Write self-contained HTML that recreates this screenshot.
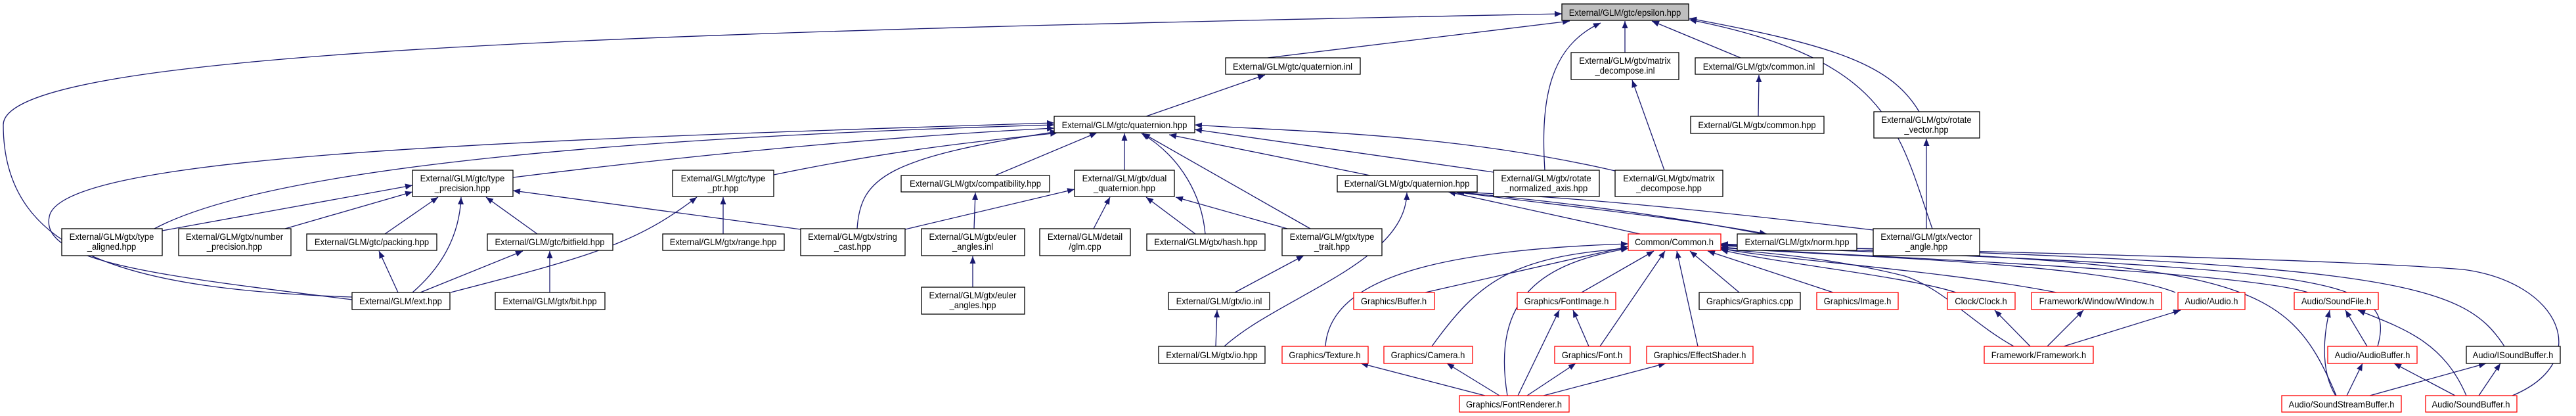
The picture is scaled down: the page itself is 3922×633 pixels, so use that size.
<!DOCTYPE html>
<html><head><meta charset="utf-8"><style>
html,body{margin:0;padding:0;background:#fff;}
svg{display:block;}
text{font-family:"Liberation Sans",sans-serif;font-size:14px;fill:#000;}
</style></head><body>
<svg width="3922" height="633" viewBox="0 0 3922 633" xmlns="http://www.w3.org/2000/svg">
<defs><marker id="a" markerUnits="userSpaceOnUse" markerWidth="12" markerHeight="9" refX="11" refY="4.5" orient="auto"><path d="M0,0 L11,4.5 L0,9 z" fill="#191970"/></marker></defs>
<g fill="none" stroke="#191970" stroke-width="1.3" marker-end="url(#a)">
<path d="M1930,88 L2390,32"/>
<path d="M2474,80 L2474,32"/>
<path d="M2650,88 L2515,32"/>
<path d="M2922,170 C2880,100 2800,70 2572,28"/>
<path d="M2942,348 C2890,200 2880,90 2572,30"/>
<path d="M2352,259 C2345,150 2360,70 2437,35"/>
<path d="M536,452 C200,440 5,390 5,190 C5,80 900,50 2378,21"/>
<path d="M1745,177 L1926,114"/>
<path d="M2534,259 L2485,122"/>
<path d="M2677,177 L2678,114"/>
<path d="M2933,348 L2933,211"/>
<path d="M781,270 C1100,230 1400,205 1605,195"/>
<path d="M536,456 C250,420 60,400 75,330 C90,240 700,215 1605,187"/>
<path d="M235,348 C400,260 900,210 1605,190"/>
<path d="M1178,266 C1400,220 1550,210 1610,202"/>
<path d="M1305,348 C1310,270 1350,240 1610,200"/>
<path d="M1515,267 L1670,202"/>
<path d="M1712,259 L1712,203"/>
<path d="M1835,356 C1830,300 1800,240 1738,203"/>
<path d="M1995,348 L1740,203"/>
<path d="M2086,267 L1780,205"/>
<path d="M2274,262 L1819,197"/>
<path d="M2459,260 C2200,200 1950,200 1819,190"/>
<path d="M1483,348 L1485,293"/>
<path d="M1665,348 L1690,300"/>
<path d="M1820,356 L1745,300"/>
<path d="M1960,348 L1790,300"/>
<path d="M1378,349 L1636,288"/>
<path d="M247,351 L628,282"/>
<path d="M434,348 L628,292"/>
<path d="M586,356 L667,300"/>
<path d="M628,445 C680,400 700,350 702,300"/>
<path d="M818,356 L740,300"/>
<path d="M1219,349 L781,290"/>
<path d="M686,445 C900,390 970,370 1061,300"/>
<path d="M1101,356 L1101,300"/>
<path d="M606,445 L577,382"/>
<path d="M640,445 L796,382"/>
<path d="M837,445 L837,382"/>
<path d="M1481,437 L1481,390"/>
<path d="M1880,445 L1985,389"/>
<path d="M1851,527 L1853,472"/>
<path d="M1864,527 C1950,450 2140,400 2142,293"/>
<path d="M2018,527 C2025,420 2200,380 2479,371"/>
<path d="M2683,356 C2500,320 2300,300 2215,292"/>
<path d="M2215,292 C2350,310 2550,330 2690,356"/>
<path d="M2852,350 C2600,320 2400,300 2218,292"/>
<path d="M2497,356 L2205,292"/>
<path d="M2170,445 L2479,375"/>
<path d="M2180,527 C2250,430 2300,390 2479,378"/>
<path d="M2295,602 C2270,450 2350,400 2479,378"/>
<path d="M2408,445 L2518,382"/>
<path d="M2436,527 L2535,382"/>
<path d="M2585,527 L2553,382"/>
<path d="M2648,445 L2573,382"/>
<path d="M2791,445 L2600,382"/>
<path d="M2978,445 C2900,420 2700,400 2620,380"/>
<path d="M3131,445 C2950,410 2700,395 2620,378"/>
<path d="M3312,445 C3200,400 2800,390 2620,377"/>
<path d="M3514,445 C3400,410 2800,390 2620,376"/>
<path d="M3066,527 C3000,490 2960,440 2900,420 C2800,395 2700,385 2620,379"/>
<path d="M3557,602 C3480,420 3420,400 2620,373"/>
<path d="M3620,527 C3650,420 3550,410 2620,374"/>
<path d="M3813,527 C3750,430 3650,400 2620,372"/>
<path d="M3825,602 C3950,550 3900,430 3750,410 C3500,390 2800,380 2620,371"/>
<path d="M2419,527 L2395,472"/>
<path d="M2311,602 L2374,472"/>
<path d="M2261,602 L2072,553"/>
<path d="M2283,602 L2203,553"/>
<path d="M2325,602 L2399,553"/>
<path d="M2350,602 L2536,553"/>
<path d="M3091,527 L3037,472"/>
<path d="M3117,527 L3172,472"/>
<path d="M3142,527 L3320,472"/>
<path d="M3556,602 C3530,560 3540,500 3547,472"/>
<path d="M3604,527 L3571,472"/>
<path d="M3755,602 C3720,520 3660,500 3590,472"/>
<path d="M3573,602 L3597,553"/>
<path d="M3738,602 L3645,553"/>
<path d="M3608,602 L3785,553"/>
<path d="M3774,602 L3807,553"/>
</g>
<g stroke-width="1.3" fill="#fff" stroke="#000">
<rect x="2378" y="6" width="193" height="25" fill="#bfbfbf"/>
<rect x="1866" y="88" width="205" height="25"/>
<rect x="2392" y="80" width="164" height="41"/>
<rect x="2581" y="88" width="195" height="25"/>
<rect x="2574" y="177" width="203" height="26"/>
<rect x="2853" y="170" width="161" height="40"/>
<rect x="1605" y="177" width="214" height="25"/>
<rect x="628" y="259" width="153" height="40"/>
<rect x="1024" y="259" width="154" height="40"/>
<rect x="1372" y="267" width="226" height="25"/>
<rect x="1636" y="259" width="152" height="40"/>
<rect x="2036" y="267" width="213" height="25"/>
<rect x="2274" y="259" width="161" height="40"/>
<rect x="2459" y="259" width="164" height="40"/>
<rect x="94" y="348" width="153" height="41"/>
<rect x="272" y="348" width="171" height="41"/>
<rect x="467" y="356" width="198" height="25"/>
<rect x="742" y="356" width="191" height="25"/>
<rect x="1009" y="356" width="185" height="25"/>
<rect x="1219" y="348" width="159" height="41"/>
<rect x="1403" y="348" width="157" height="41"/>
<rect x="1583" y="348" width="138" height="41"/>
<rect x="1746" y="356" width="180" height="25"/>
<rect x="1952" y="348" width="152" height="41"/>
<rect x="2645" y="356" width="182" height="25"/>
<rect x="2852" y="348" width="162" height="41"/>
<rect x="536" y="445" width="149" height="26"/>
<rect x="754" y="445" width="167" height="26"/>
<rect x="1403" y="437" width="157" height="41"/>
<rect x="1779" y="445" width="154" height="26"/>
<rect x="2587" y="445" width="154" height="26"/>
<rect x="1764" y="527" width="162" height="26"/>
<rect x="3755" y="527" width="143" height="26"/>
</g>
<g stroke-width="1.3" fill="#fff" stroke="#ff0000">
<rect x="2479" y="356" width="141" height="25"/>
<rect x="2061" y="445" width="123" height="26"/>
<rect x="2310" y="445" width="150" height="26"/>
<rect x="2766" y="445" width="124" height="26"/>
<rect x="2965" y="445" width="103" height="26"/>
<rect x="3093" y="445" width="198" height="26"/>
<rect x="3316" y="445" width="102" height="26"/>
<rect x="3493" y="445" width="128" height="26"/>
<rect x="1952" y="527" width="131" height="26"/>
<rect x="2107" y="527" width="135" height="26"/>
<rect x="2367" y="527" width="115" height="26"/>
<rect x="2507" y="527" width="162" height="26"/>
<rect x="3021" y="527" width="166" height="26"/>
<rect x="3544" y="527" width="136" height="26"/>
<rect x="2222" y="602" width="167" height="25"/>
<rect x="3474" y="602" width="182" height="25"/>
<rect x="3693" y="602" width="139" height="25"/>
</g>
<g text-anchor="middle">
<text transform="translate(2474,24) scale(0.93,1)">External/GLM/gtc/epsilon.hpp</text>
<text transform="translate(1968,106) scale(0.93,1)">External/GLM/gtc/quaternion.inl</text>
<text transform="translate(2474,97) scale(0.93,1)">External/GLM/gtx/matrix</text>
<text transform="translate(2474,112) scale(0.93,1)">_decompose.inl</text>
<text transform="translate(2678,106) scale(0.93,1)">External/GLM/gtx/common.inl</text>
<text transform="translate(2675,195) scale(0.93,1)">External/GLM/gtx/common.hpp</text>
<text transform="translate(2933,187) scale(0.93,1)">External/GLM/gtx/rotate</text>
<text transform="translate(2933,202) scale(0.93,1)">_vector.hpp</text>
<text transform="translate(1712,195) scale(0.93,1)">External/GLM/gtc/quaternion.hpp</text>
<text transform="translate(704,276) scale(0.93,1)">External/GLM/gtc/type</text>
<text transform="translate(704,291) scale(0.93,1)">_precision.hpp</text>
<text transform="translate(1101,276) scale(0.93,1)">External/GLM/gtc/type</text>
<text transform="translate(1101,291) scale(0.93,1)">_ptr.hpp</text>
<text transform="translate(1485,284) scale(0.93,1)">External/GLM/gtx/compatibility.hpp</text>
<text transform="translate(1712,276) scale(0.93,1)">External/GLM/gtx/dual</text>
<text transform="translate(1712,291) scale(0.93,1)">_quaternion.hpp</text>
<text transform="translate(2142,284) scale(0.93,1)">External/GLM/gtx/quaternion.hpp</text>
<text transform="translate(2354,276) scale(0.93,1)">External/GLM/gtx/rotate</text>
<text transform="translate(2354,291) scale(0.93,1)">_normalized_axis.hpp</text>
<text transform="translate(2541,276) scale(0.93,1)">External/GLM/gtx/matrix</text>
<text transform="translate(2541,291) scale(0.93,1)">_decompose.hpp</text>
<text transform="translate(170,365) scale(0.93,1)">External/GLM/gtx/type</text>
<text transform="translate(170,380) scale(0.93,1)">_aligned.hpp</text>
<text transform="translate(357,365) scale(0.93,1)">External/GLM/gtx/number</text>
<text transform="translate(357,380) scale(0.93,1)">_precision.hpp</text>
<text transform="translate(566,373) scale(0.93,1)">External/GLM/gtc/packing.hpp</text>
<text transform="translate(837,373) scale(0.93,1)">External/GLM/gtc/bitfield.hpp</text>
<text transform="translate(1101,373) scale(0.93,1)">External/GLM/gtx/range.hpp</text>
<text transform="translate(1298,365) scale(0.93,1)">External/GLM/gtx/string</text>
<text transform="translate(1298,380) scale(0.93,1)">_cast.hpp</text>
<text transform="translate(1481,365) scale(0.93,1)">External/GLM/gtx/euler</text>
<text transform="translate(1481,380) scale(0.93,1)">_angles.inl</text>
<text transform="translate(1652,365) scale(0.93,1)">External/GLM/detail</text>
<text transform="translate(1652,380) scale(0.93,1)">/glm.cpp</text>
<text transform="translate(1836,373) scale(0.93,1)">External/GLM/gtx/hash.hpp</text>
<text transform="translate(2028,365) scale(0.93,1)">External/GLM/gtx/type</text>
<text transform="translate(2028,380) scale(0.93,1)">_trait.hpp</text>
<text transform="translate(2549,373) scale(0.93,1)">Common/Common.h</text>
<text transform="translate(2736,373) scale(0.93,1)">External/GLM/gtx/norm.hpp</text>
<text transform="translate(2933,365) scale(0.93,1)">External/GLM/gtx/vector</text>
<text transform="translate(2933,380) scale(0.93,1)">_angle.hpp</text>
<text transform="translate(610,463) scale(0.93,1)">External/GLM/ext.hpp</text>
<text transform="translate(837,463) scale(0.93,1)">External/GLM/gtx/bit.hpp</text>
<text transform="translate(1481,454) scale(0.93,1)">External/GLM/gtx/euler</text>
<text transform="translate(1481,469) scale(0.93,1)">_angles.hpp</text>
<text transform="translate(1856,463) scale(0.93,1)">External/GLM/gtx/io.inl</text>
<text transform="translate(2122,463) scale(0.93,1)">Graphics/Buffer.h</text>
<text transform="translate(2385,463) scale(0.93,1)">Graphics/FontImage.h</text>
<text transform="translate(2664,463) scale(0.93,1)">Graphics/Graphics.cpp</text>
<text transform="translate(2828,463) scale(0.93,1)">Graphics/Image.h</text>
<text transform="translate(3016,463) scale(0.93,1)">Clock/Clock.h</text>
<text transform="translate(3192,463) scale(0.93,1)">Framework/Window/Window.h</text>
<text transform="translate(3367,463) scale(0.93,1)">Audio/Audio.h</text>
<text transform="translate(3557,463) scale(0.93,1)">Audio/SoundFile.h</text>
<text transform="translate(1845,545) scale(0.93,1)">External/GLM/gtx/io.hpp</text>
<text transform="translate(2017,545) scale(0.93,1)">Graphics/Texture.h</text>
<text transform="translate(2174,545) scale(0.93,1)">Graphics/Camera.h</text>
<text transform="translate(2424,545) scale(0.93,1)">Graphics/Font.h</text>
<text transform="translate(2588,545) scale(0.93,1)">Graphics/EffectShader.h</text>
<text transform="translate(3104,545) scale(0.93,1)">Framework/Framework.h</text>
<text transform="translate(3612,545) scale(0.93,1)">Audio/AudioBuffer.h</text>
<text transform="translate(3826,545) scale(0.93,1)">Audio/ISoundBuffer.h</text>
<text transform="translate(2305,620) scale(0.93,1)">Graphics/FontRenderer.h</text>
<text transform="translate(3565,620) scale(0.93,1)">Audio/SoundStreamBuffer.h</text>
<text transform="translate(3762,620) scale(0.93,1)">Audio/SoundBuffer.h</text>
</g>
</svg>
</body></html>
